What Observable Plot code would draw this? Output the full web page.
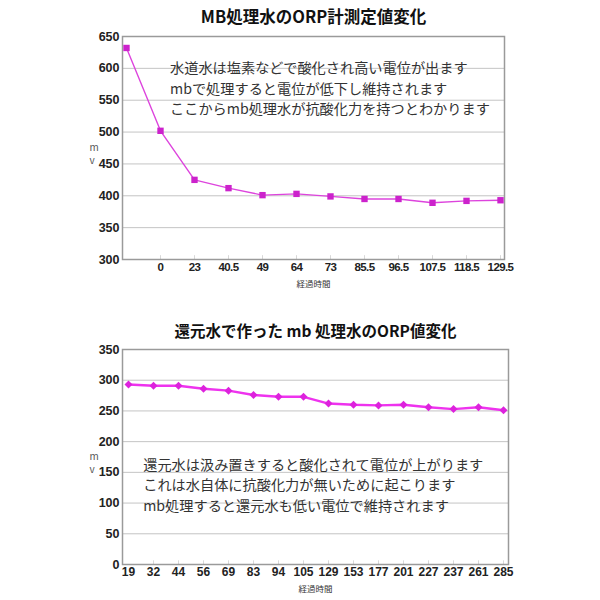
<!DOCTYPE html>
<html>
<head>
<meta charset="utf-8">
<script src="https://cdn.jsdelivr.net/npm/d3@7"></script>
<script src="https://cdn.jsdelivr.net/npm/@observablehq/plot@0.6"></script>
<style>
  body { margin: 0; background: #fff; }
  #wrap { width: 600px; height: 600px; }
  #wrap svg { display: block; }
</style>
</head>
<body>
<div id="wrap"></div>
<script>
// ---- Top chart data ----
const topTitle = "MB処理水のORP計測定値変化";
const topLabels = ["", "0", "23", "40.5", "49", "64", "73", "85.5", "96.5", "107.5", "118.5", "129.5"];
const topValues = [632, 502, 425, 412, 401, 403, 399, 395, 395, 389, 392, 393];
const topTicks = [300, 350, 400, 450, 500, 550, 600, 650];
const topNote = [
  "水道水は塩素などで酸化され高い電位が出ます",
  "mbで処理すると電位が低下し維持されます",
  "ここからmb処理水が抗酸化力を持つとわかります"
];

// ---- Bottom chart data ----
const botTitle = "還元水で作った mb 処理水のORP値変化";
const botLabels = ["19", "32", "44", "56", "69", "83", "94", "105", "129", "153", "177", "201", "227", "237", "261", "285"];
const botValues = [293, 291, 291, 286, 283, 276, 273, 273, 262, 260, 259, 260, 256, 253, 256, 251];
const botTicks = [0, 50, 100, 150, 200, 250, 300, 350];
const botNote = [
  "還元水は汲み置きすると酸化されて電位が上がります",
  "これは水自体に抗酸化力が無いために起こります",
  "mb処理すると還元水も低い電位で維持されます"
];

const xTitle = "経過時間";
const yTitle = "m\nv";

const numFont = "'Liberation Sans', Arial, sans-serif";
const jpFont = "'Noto Sans CJK JP', sans-serif";

const topData = topLabels.map((l, i) => ({label: l, value: topValues[i]}));
const botData = botLabels.map((l, i) => ({label: l, value: botValues[i]}));

const chartTop = Plot.plot({
  width: 600, height: 300,
  marginLeft: 122, marginRight: 96, marginTop: 36, marginBottom: 41,
  style: {fontFamily: numFont, background: "#fff"},
  x: {type: "point", domain: topLabels, padding: 0},
  y: {domain: [300, 650]},
  marks: [
    Plot.ruleY(topTicks, {stroke: "#c4c4c4", strokeWidth: 1}),
    Plot.ruleX(topLabels.slice(1), {x: d => d, y1: 300, y2: 306, stroke: "#d8d8d8"}),
    Plot.frame({stroke: "#9a9a9a", strokeWidth: 1.5}),
    Plot.axisY({ticks: topTicks, tickSize: 0, tickPadding: 3, label: null, fontSize: 12.5, fontWeight: "bold", fill: "#222"}),
    Plot.axisX({tickSize: 0, tickPadding: 3, label: null, fontSize: 11.5, fontWeight: "bold", fill: "#222"}),
    Plot.line(topData, {x: "label", y: "value", stroke: "#dd44dd", strokeWidth: 1.4}),
    Plot.dot(topData, {x: "label", y: "value", symbol: "square", r: 3.6, fill: "#cc22cc", stroke: "none"}),
    Plot.text([topNote.join("\n")], {frameAnchor: "top-left", dx: 47.5, dy: 50.5, lineAnchor: "middle", lineHeight: 1.44, textAnchor: "start", fontSize: 14.2, fontFamily: jpFont, fill: "#333"}),
    Plot.text([topTitle], {frameAnchor: "top", dy: -19, lineAnchor: "middle", fontSize: 16.5, fontWeight: "bold", fontFamily: jpFont, fill: "#111"}),
    Plot.text([xTitle], {frameAnchor: "bottom", dy: 25, lineAnchor: "middle", fontSize: 8.5, fontFamily: jpFont, fill: "#333"}),
    Plot.text([yTitle], {frameAnchor: "left", dx: -33, dy: 5, lineAnchor: "middle", lineHeight: 1.35, fontSize: 10, fontFamily: jpFont, fill: "#555"})
  ]
});

const chartBot = Plot.plot({
  width: 600, height: 300,
  marginLeft: 122, marginRight: 92, marginTop: 49, marginBottom: 36,
  style: {fontFamily: numFont, background: "#fff"},
  x: {type: "point", domain: botLabels, padding: 0},
  y: {domain: [0, 350]},
  marks: [
    Plot.ruleY(botTicks, {stroke: "#c4c4c4", strokeWidth: 1}),
    Plot.ruleX(botLabels.slice(1), {x: d => d, y1: 0, y2: 6, stroke: "#d8d8d8"}),
    Plot.frame({stroke: "#9a9a9a", strokeWidth: 1.5}),
    Plot.axisY({ticks: botTicks, tickSize: 0, tickPadding: 3, label: null, fontSize: 12.5, fontWeight: "bold", fill: "#222"}),
    Plot.axisX({tickSize: 0, tickPadding: 3, label: null, fontSize: 12, fontWeight: "bold", fill: "#222"}),
    Plot.line(botData, {x: "label", y: "value", stroke: "#ee33ee", strokeWidth: 2.4}),
    Plot.dot(botData, {x: "label", y: "value", symbol: "diamond2", r: 3.6, fill: "#dd22dd", stroke: "none"}),
    Plot.text([botNote.join("\n")], {frameAnchor: "top-left", dx: 20.7, dy: 134.3, lineAnchor: "middle", lineHeight: 1.43, textAnchor: "start", fontSize: 14.2, fontFamily: jpFont, fill: "#333"}),
    Plot.text([botTitle], {frameAnchor: "top", dy: -17.3, lineAnchor: "middle", fontSize: 15.5, fontWeight: "bold", fontFamily: jpFont, fill: "#111"}),
    Plot.text([xTitle], {frameAnchor: "bottom", dy: 25, lineAnchor: "middle", fontSize: 8.5, fontFamily: jpFont, fill: "#333"}),
    Plot.text([yTitle], {frameAnchor: "left", dx: -33, dy: 5, lineAnchor: "middle", lineHeight: 1.35, fontSize: 10, fontFamily: jpFont, fill: "#555"})
  ]
});

// tighten the crowded top x tick labels a little
d3.select(chartTop).selectAll('g[aria-label="x-axis tick label"]').style("letter-spacing", "-0.6px");

const wrap = document.getElementById("wrap");
wrap.appendChild(chartTop);
wrap.appendChild(chartBot);
</script>
</body>
</html>
